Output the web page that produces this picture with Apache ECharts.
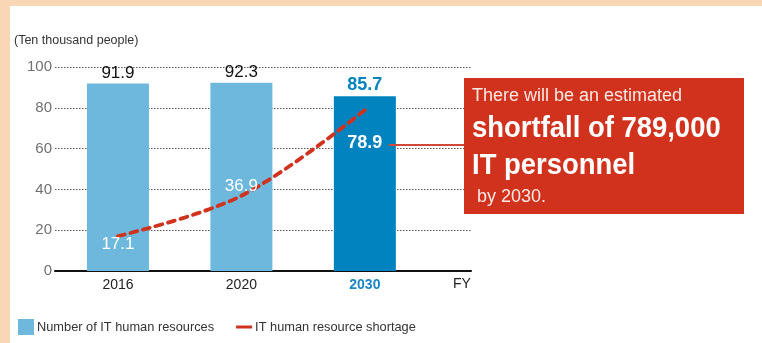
<!DOCTYPE html>
<html>
<head>
<meta charset="utf-8">
<script src="https://cdn.jsdelivr.net/npm/echarts@6/dist/echarts.min.js"></script>
<style>
  html, body { margin: 0; padding: 0; background: #fff; }
  #chart { width: 762px; height: 343px; }
</style>
</head>
<body>
<div id="chart"></div>
<script>
// Fiscal years on the horizontal axis
const fiscalYears = ['2016', '2020', '2030'];
// Number of IT human resources (ten thousand people)
const itWorkforce = [91.9, 92.3, 85.7];
// IT human resource shortage (ten thousand people)
const itShortage = [17.1, 36.9, 78.9];
// Value axis ticks
const yMin = 0;
const yMax = 100;
const yStep = 20;

const FONT = '"Liberation Sans", Arial, sans-serif';
const LIGHT_BLUE = '#6db8dc';
const DARK_BLUE = '#0083be';
const RED = '#d1321e';

// Placement of the shortage labels around each point
const shortageLabelPos = [
  { position: 'bottom', distance: 0, fontWeight: 'normal', fontSize: 17 },
  { position: 'top', distance: 1, fontWeight: 'normal', fontSize: 17 },
  { position: 'bottom', distance: 24, fontWeight: 'bold', fontSize: 18 }
];

const lastIdx = fiscalYears.length - 1;

const barData = itWorkforce.map((v, i) => ({
  value: [i, v],
  itemStyle: { color: i === lastIdx ? DARK_BLUE : LIGHT_BLUE },
  label: i === lastIdx
    ? { color: DARK_BLUE, fontWeight: 'bold', fontSize: 18 }
    : { color: '#111', fontWeight: 'normal', fontSize: 17 }
}));

const lineData = itShortage.map((v, i) => ({
  value: [i, v],
  label: {
    position: shortageLabelPos[i].position,
    distance: shortageLabelPos[i].distance,
    fontWeight: shortageLabelPos[i].fontWeight,
    fontSize: shortageLabelPos[i].fontSize
  }
}));

const chart = echarts.init(document.getElementById('chart'), null, { renderer: 'canvas' });

chart.setOption({
  backgroundColor: '#ffffff',
  animation: false,
  textStyle: { fontFamily: FONT },
  grid: { left: 55, right: 291, top: 67, bottom: 72 },
  xAxis: {
    type: 'value',
    min: -0.51,
    max: 2.86,
    splitLine: { show: false },
    axisTick: { show: false },
    axisLine: { show: true, onZero: false, lineStyle: { color: '#111', width: 2 } },
    axisLabel: {
      customValues: fiscalYears.map((_, i) => i),
      margin: 7,
      fontSize: 14,
      color: '#222',
      fontFamily: FONT,
      formatter: (v) => {
        const i = Math.round(v);
        return i === lastIdx ? '{hi|' + fiscalYears[i] + '}' : fiscalYears[i];
      },
      rich: {
        hi: { color: '#1a86c4', fontWeight: 'bold', fontSize: 14, fontFamily: FONT }
      }
    }
  },
  yAxis: {
    type: 'value',
    min: yMin,
    max: yMax,
    interval: yStep,
    axisLine: { show: false },
    axisTick: { show: false },
    axisLabel: { margin: 3, fontSize: 15, color: '#707070', fontFamily: FONT },
    splitLine: { lineStyle: { type: [1.5, 1.5], color: '#555', width: 1 } }
  },
  legend: {
    left: 18,
    bottom: 8,
    padding: 0,
    itemWidth: 16,
    itemHeight: 16,
    itemGap: 22,
    textStyle: { fontSize: 12.8, color: '#333', fontFamily: FONT, padding: [0, 0, 0, -2] },
    data: [
      { name: 'Number of IT human resources', icon: 'rect', itemStyle: { color: LIGHT_BLUE } },
      { name: 'IT human resource shortage', icon: 'path://M0,0 M0,6.5 L16,6.5 L16,9.5 L0,9.5 Z M16,16', itemStyle: { color: RED } }
    ]
  },
  series: [
    {
      name: 'Number of IT human resources',
      type: 'bar',
      barWidth: 62,
      data: barData,
      itemStyle: { color: LIGHT_BLUE },
      label: {
        show: true,
        position: 'top',
        distance: 2,
        fontFamily: FONT,
        formatter: (p) => p.value[1].toFixed(1)
      }
    },
    {
      name: 'IT human resource shortage',
      type: 'line',
      smooth: 0.35,
      symbol: 'circle',
      symbolSize: 0,
      showSymbol: true,
      data: lineData,
      itemStyle: { color: RED },
      lineStyle: { color: RED, width: 3.8, type: [7, 6], cap: 'round' },
      label: {
        show: true,
        color: '#fff',
        fontFamily: FONT,
        formatter: (p) => p.value[1].toFixed(1)
      },
      z: 5
    }
  ],
  graphic: [
    // peach frame along the top and left edges
    { type: 'rect', shape: { x: 0, y: 0, width: 762, height: 6 }, style: { fill: '#f9d6b5' }, silent: true },
    { type: 'rect', shape: { x: 0, y: 0, width: 10, height: 343 }, style: { fill: '#f9d6b5' }, silent: true },
    // unit caption
    {
      type: 'text', x: 14, y: 41,
      style: { text: '(Ten thousand people)', font: '12.5px ' + FONT, fill: '#333', verticalAlign: 'middle' }
    },
    // fiscal-year marker at the axis end
    {
      type: 'text', x: 453, y: 284,
      style: { text: 'FY', font: '14px ' + FONT, fill: '#222', verticalAlign: 'middle' }
    },
    // connector from the 2030 bar to the callout
    {
      type: 'line', shape: { x1: 389, y1: 145, x2: 464, y2: 145 },
      style: { stroke: '#d04a3a', lineWidth: 2 }, z: 10
    },
    // callout box
    { type: 'rect', shape: { x: 464, y: 78, width: 280, height: 136 }, style: { fill: RED }, z: 10 },
    {
      type: 'text', x: 472, y: 96, z: 11,
      style: { text: 'There will be an estimated', font: '18px ' + FONT, fill: '#fbe9e4', verticalAlign: 'middle' }
    },
    {
      type: 'text', x: 472, y: 129, z: 11, scaleX: 0.915,
      style: { text: 'shortfall of 789,000', font: 'bold 30px ' + FONT, fill: '#fff', verticalAlign: 'middle' }
    },
    {
      type: 'text', x: 472, y: 166, z: 11, scaleX: 0.915,
      style: { text: 'IT personnel', font: 'bold 30px ' + FONT, fill: '#fff', verticalAlign: 'middle' }
    },
    {
      type: 'text', x: 477, y: 197, z: 11,
      style: { text: 'by 2030.', font: '18px ' + FONT, fill: '#fbe9e4', verticalAlign: 'middle' }
    }
  ]
});
</script>
</body>
</html>
